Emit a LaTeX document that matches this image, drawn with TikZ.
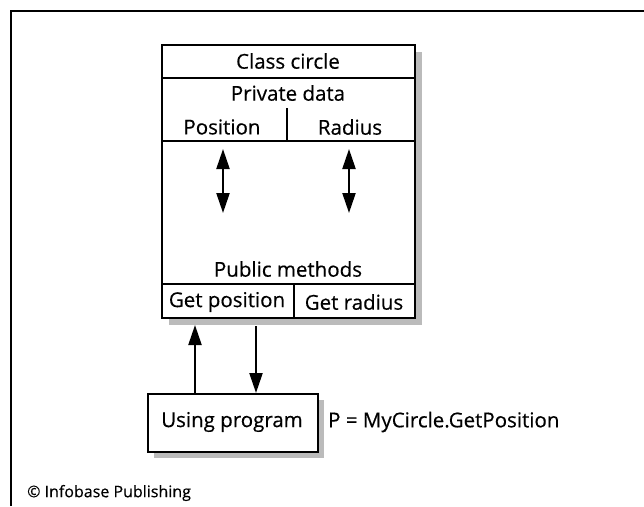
\documentclass[tikz,border=0pt]{standalone}
\usepackage{fontspec}
\setmainfont[FakeBold=0.4]{Open Sans}
\usetikzlibrary{arrows.meta}
\definecolor{shade}{HTML}{BBBBBB}
\begin{document}
\begin{tikzpicture}[x=1pt,y=-1pt,
  txt/.style={inner sep=0pt,font=\fontsize{20.5}{22}\selectfont},
  frame/.style={line width=1.8pt},
  boxline/.style={line width=2.2pt},
  tip/.style={},
  arr/.style={line width=2.2pt,-{Triangle[length=20pt,width=13pt]}},
  darr/.style={line width=2.2pt,{Triangle[length=20pt,width=13pt]}-{Triangle[length=20pt,width=13pt]}},
  shadow/.style={fill=shade,draw=none}]
\useasboundingbox (0,0) rectangle (644,506);
% frame
\coordinate (fbl) at (11,506);
\coordinate (ftl) at (11,11);
\coordinate (ftr) at (644,11);
\draw[frame] (fbl) -- (ftl) -- (ftr);
% class box
\fill[shadow] (169,52) rectangle (422,325);
\node[boxline,draw,fill=white,minimum width=253pt,minimum height=273pt,anchor=north west,inner sep=0pt] (cls) at (161,44) {};
\draw[boxline] (161,78) -- (414,78);
\draw[boxline] (161,141) -- (414,141);
\draw[boxline] (287,108) -- (287,141);
\draw[boxline] (161,284) -- (414,284);
\draw[boxline] (294,284) -- (294,317);
\node[txt] (title) at (288,61) {Class circle};
\node[txt] (priv) at (288,93) {Private data};
\node[txt] (pos) at (222,127) {Position};
\node[txt] (rad) at (350,127) {Radius};
\node[txt] (pub) at (288,269) {Public methods};
\node[txt] (gpos) at (227,302) {Get position};
\node[txt] (grad) at (354,302) {Get radius};
% internal double arrows
\coordinate (pa1) at (223,149);
\coordinate (pa2) at (223,213);
\coordinate (ra1) at (349,149);
\coordinate (ra2) at (349,213);
\draw[darr] (pa1) -- (pa2);
\draw[darr] (ra1) -- (ra2);
% using program box
\fill[shadow] (154,400) rectangle (324,458);
\node[boxline,draw,fill=white,minimum width=170pt,minimum height=58pt,anchor=north west,inner sep=0pt] (prog) at (147,393) {};
\node[txt] (progt) at (232,422) {Using program};
\node[txt,anchor=west] (call) at (328,422) {P = MyCircle.GetPosition};
% connectors
\coordinate (upend) at (195,325);
\coordinate (downstart) at (256,326);
\draw[arr] (prog.north -| upend) -- (upend);
\draw[arr] (downstart) -- (prog.north -| downstart);
% copyright
\node[inner sep=0pt,anchor=west,font=\fontsize{16}{18}\selectfont] (copy) at (27,493) {© Infobase Publishing};
\end{tikzpicture}
\end{document}
